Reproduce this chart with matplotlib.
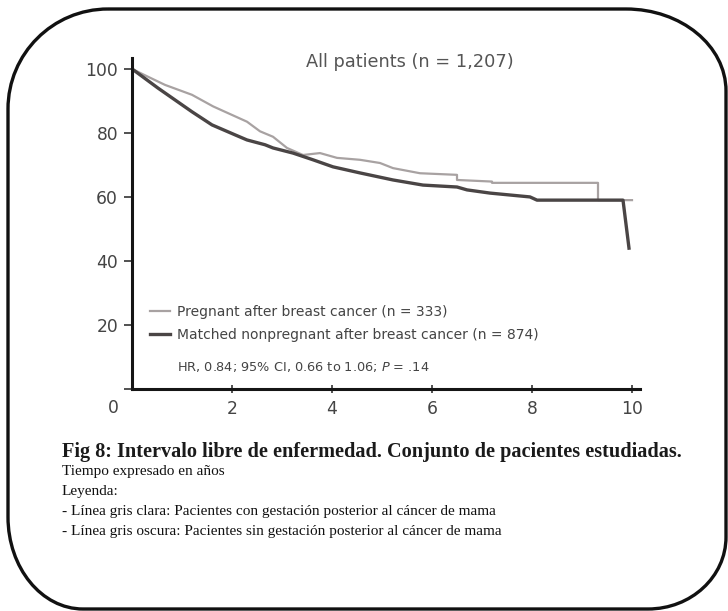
import matplotlib
matplotlib.use("Agg")
import matplotlib.pyplot as plt
from matplotlib.path import Path
from matplotlib.patches import PathPatch

plt.rcParams['font.family'] = ['DejaVu Sans']
plt.rcParams['mathtext.fontset'] = 'dejavusans'

# Disease-free survival (%) by years
t_pregnant = [0.0, 0.26, 0.66, 1.2, 1.62, 1.86, 2.3, 2.56, 2.82, 3.1, 3.42, 3.76,
              4.1, 4.56, 4.96, 5.22, 5.76, 6.5, 6.5, 7.2, 7.2, 9.32, 9.32, 10.0]
s_pregnant = [100, 98, 95, 91.9, 88.3, 86.6, 83.5, 80.5, 78.8, 75.3, 73.1, 73.7,
              72.2, 71.6, 70.6, 69, 67.4, 66.9, 65.3, 64.8, 64.4, 64.4, 59, 59]

t_matched = [0.0, 0.52, 1.2, 1.6, 2.06, 2.3, 2.66, 2.82, 3.22, 3.62, 4.02, 4.56,
             5.22, 5.82, 6.5, 6.7, 7.16, 7.56, 7.96, 8.1, 9.82, 9.94]
s_matched = [100, 94, 86.6, 82.5, 79.4, 77.8, 76.3, 75.3, 73.7, 71.6, 69.4, 67.5,
             65.3, 63.7, 63.1, 62.2, 61.2, 60.6, 60, 59, 59, 44]

x_ticks = [2, 4, 6, 8, 10]
y_ticks = [0, 20, 40, 60, 80, 100]
y_labels = ['', '20', '40', '60', '80', '100']

W, H = 728, 611
fig = plt.figure(figsize=(W / 100, H / 100), dpi=100)

# frame overlay in pixel coordinates
frame = fig.add_axes([0, 0, 1, 1])
frame.set_xlim(0, W)
frame.set_ylim(H, 0)
frame.axis('off')

def rounded_frame(x0, y0, x1, y1, tl, tr, br, bl):
    k = 0.5523
    verts = [(x0 + tl[0], y0), (x1 - tr[0], y0),
             (x1 - tr[0] + k * tr[0], y0), (x1, y0 + tr[1] - k * tr[1]), (x1, y0 + tr[1]),
             (x1, y1 - br[1]),
             (x1, y1 - br[1] + k * br[1]), (x1 - br[0] + k * br[0], y1), (x1 - br[0], y1),
             (x0 + bl[0], y1),
             (x0 + bl[0] - k * bl[0], y1), (x0, y1 - bl[1] + k * bl[1]), (x0, y1 - bl[1]),
             (x0, y0 + tl[1]),
             (x0, y0 + tl[1] - k * tl[1]), (x0 + tl[0] - k * tl[0], y0), (x0 + tl[0], y0)]
    codes = ([Path.MOVETO, Path.LINETO] + [Path.CURVE4] * 3 + [Path.LINETO] + [Path.CURVE4] * 3
             + [Path.LINETO] + [Path.CURVE4] * 3 + [Path.LINETO] + [Path.CURVE4] * 3)
    return Path(verts, codes)

frame.add_patch(PathPatch(rounded_frame(8, 9, 726, 609, (100, 100), (100, 82), (78, 72), (75, 92)),
                          facecolor='none', edgecolor='#111111', lw=2.4))

# survival plot
ax = fig.add_axes([132 / W, 1 - 389 / H, 508 / W, 331 / H])
ax.plot(t_pregnant, s_pregnant, color='#a8a2a2', lw=1.6, label='Pregnant after breast cancer (n = 333)')
ax.plot(t_matched, s_matched, color='#4a4545', lw=2.4,
        label='Matched nonpregnant after breast cancer (n = 874)')
ax.set_xlim(0, 10.16)
ax.set_ylim(0, 103.4)
ax.set_xticks(x_ticks)
ax.set_yticks(y_ticks)
ax.set_yticklabels(y_labels)
for side in ['top', 'right']:
    ax.spines[side].set_visible(False)
for side in ['left', 'bottom']:
    ax.spines[side].set_linewidth(2.2)
    ax.spines[side].set_color('#151515')
ax.tick_params(axis='y', direction='out', length=6, width=1.2, color='#333333',
               labelsize=12.3, labelcolor='#444444', pad=4)
ax.tick_params(axis='x', direction='inout', length=6, width=1.2, color='#333333',
               labelsize=12.3, labelcolor='#444444', pad=5)
ax.text(113, 408, '0', transform=frame.transData, ha='center', va='center',
        fontsize=12.3, color='#444444')
ax.text(410, 62, 'All patients (n = 1,207)', transform=frame.transData, ha='center', va='center',
        fontsize=12.8, color='#555555')

leg = ax.legend(loc='upper left', bbox_to_anchor=(150 / W, 1 - 305 / H), bbox_transform=fig.transFigure,
                frameon=False, fontsize=10, handlelength=1.45, handletextpad=0.5, labelspacing=0.65,
                borderpad=0, borderaxespad=0)
for txt in leg.get_texts():
    txt.set_color('#444444')
ax.text(177, 367, r'HR, 0.84; 95% CI, 0.66 to 1.06; $P$ = .14', transform=frame.transData,
        fontsize=9.3, color='#444444', va='center', ha='left')

# caption
serif = ['Liberation Serif', 'DejaVu Serif']
frame.text(62, 452, 'Fig 8: Intervalo libre de enfermedad. Conjunto de pacientes estudiadas.',
           family=serif, fontweight='bold', fontsize=14.6, color='#1a1a1a', va='center')
caption_lines = [(472, 'Tiempo expresado en años'),
                 (491, 'Leyenda:'),
                 (511, '- Línea gris clara: Pacientes con gestación posterior al cáncer de mama'),
                 (531, '- Línea gris oscura: Pacientes sin gestación posterior al cáncer de mama')]
for ypix, line in caption_lines:
    frame.text(62, ypix, line, family=serif, fontsize=11.0, color='#111111', va='center')

fig.savefig('out.png', dpi=100)
